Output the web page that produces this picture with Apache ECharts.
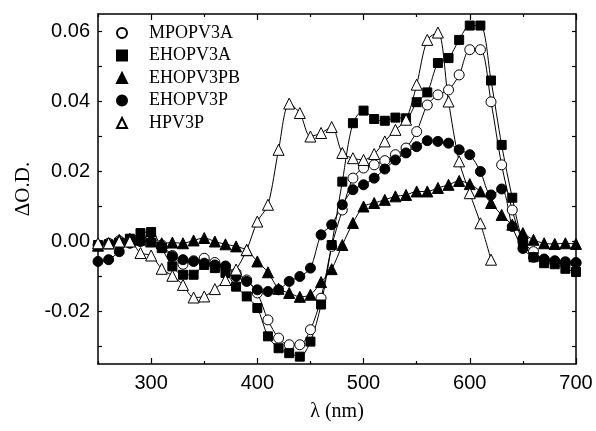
<!DOCTYPE html>
<html>
<head>
<meta charset="utf-8">
<script src="https://cdn.jsdelivr.net/npm/echarts@6/dist/echarts.min.js"></script>
<style>
  html, body { margin: 0; padding: 0; background: #fff; }
  #chart { width: 596px; height: 431px; }
</style>
</head>
<body>
<div id="chart"></div>
<script>
// wavelength grid, 10 nm steps
const wl = [250, 260, 270, 280, 290, 300, 310, 320, 330, 340, 350, 360, 370, 380, 390,
            400, 410, 420, 430, 440, 450, 460, 470, 480, 490, 500, 510, 520, 530, 540,
            550, 560, 570, 580, 590, 600, 610, 620, 630, 640, 650, 660, 670, 680, 690, 700];
const wlHPV = wl.slice(0, 38); // HPV3P stops at 620 nm

const mpopv3a = [-0.001, -0.0005, 0.0002, 0.0005, 0.001, 0.0012, -0.001, -0.004, -0.0065, -0.0055,
                 -0.0048, -0.006, -0.007, -0.009, -0.011, -0.0147, -0.0224, -0.0276, -0.0295, -0.0295,
                 -0.0252, -0.0162, -0.0014, 0.009, 0.0181, 0.021, 0.0219, 0.0231, 0.0248, 0.0267,
                 0.0314, 0.039, 0.0419, 0.0433, 0.0476, 0.0548, 0.0548, 0.0399, 0.0219, 0.009,
                 0.0, -0.0029, -0.0052, -0.0057, -0.0062, -0.0062];
const ehopv3a = [-0.001, -0.0008, -0.0003, 0.0008, 0.0024, 0.0027, -0.0019, -0.0071, -0.0095, -0.0095,
                 -0.0067, -0.0076, -0.009, -0.0129, -0.0157, -0.019, -0.0271, -0.0305, -0.0319, -0.0329,
                 -0.0286, -0.018, -0.001, 0.0171, 0.0338, 0.0374, 0.035, 0.0345, 0.0354, 0.0352,
                 0.0398, 0.0426, 0.051, 0.0524, 0.0576, 0.0617, 0.0617, 0.046, 0.0276, 0.0125,
                 0.0, -0.0045, -0.0062, -0.0065, -0.0078, -0.0087];
const ehopv3pb = [-0.0012, -0.0005, 0.0005, 0.0008, 0.0005, 0.0, -0.0005, -0.0003, -0.0005, 0.0003,
                  0.001, 0.0, -0.0008, -0.0014, -0.0025, -0.0057, -0.0088, -0.0135, -0.0147, -0.0158,
                  -0.0152, -0.0116, -0.0079, -0.001, 0.0053, 0.01, 0.011, 0.0119, 0.0129, 0.0133,
                  0.0143, 0.0143, 0.0153, 0.0162, 0.0173, 0.0164, 0.0143, 0.011, 0.0076, 0.0048,
                  0.0024, 0.0005, -0.0005, -0.0007, -0.0005, -0.0007];
const ehopv3p = [-0.0057, -0.0052, -0.0029, -0.0005, 0.0, 0.0, -0.0014, -0.0043, -0.0052, -0.0057,
                 -0.0062, -0.0067, -0.0071, -0.01, -0.0114, -0.0138, -0.0143, -0.0138, -0.0114, -0.01,
                 -0.0076, 0.0019, 0.0048, 0.0105, 0.0148, 0.0162, 0.0181, 0.0207, 0.0233, 0.0253,
                 0.0271, 0.0288, 0.0286, 0.0281, 0.0262, 0.0248, 0.02, 0.0133, 0.015, 0.0043,
                 -0.002, -0.0045, -0.005, -0.0055, -0.0058, -0.006];
const hpv3p = [-0.0005, -0.0005, 0.0, 0.0, -0.0033, -0.004, -0.0078, -0.0098, -0.0124, -0.016,
               -0.0157, -0.0136, -0.011, -0.008, -0.0024, 0.0057, 0.0105, 0.0262, 0.0394, 0.0367,
               0.03, 0.031, 0.0327, 0.0253, 0.0238, 0.0233, 0.025, 0.0286, 0.0319, 0.0348,
               0.0448, 0.0576, 0.0597, 0.04, 0.0229, 0.0138, 0.0052, -0.0052];

const xMajor = [300, 400, 500, 600, 700];
const xMinor = [250, 350, 450, 550, 650];
const yLabels = [-0.02, 0, 0.02, 0.04, 0.06];
const yTicks = [-0.03, -0.02, -0.01, 0, 0.01, 0.02, 0.03, 0.04, 0.05, 0.06];

const chart = echarts.init(document.getElementById('chart'));

const sans = 'Liberation Sans';
const serif = 'Liberation Serif';
const axisLine = { show: true, onZero: false, lineStyle: { color: '#000', width: 1.5 } };
const noLine = { show: false, onZero: false };
const tickStyle = { color: '#000', width: 1.2 };

function pairs(xs, ys) {
    return xs.map((x, i) => [x, ys[i]]);
}

function makeSeries(name, xs, ys, symbol, filled) {
    return {
        name: name,
        type: 'line',
        data: pairs(xs, ys),
        smooth: 0.3,
        symbol: symbol,
        symbolSize: symbol === 'triangle' ? 11 : (symbol === 'rect' ? 9 : 10),
        showAllSymbol: true,
        lineStyle: { color: '#000', width: 1 },
        itemStyle: {
            color: filled ? '#000' : '#fff',
            borderColor: '#000',
            borderWidth: 1
        },
        emphasis: { disabled: true },
        animation: false
    };
}

const xBase = { type: 'value', min: 250, max: 700, splitLine: { show: false } };
const yBase = { type: 'value', min: -0.035, max: 0.065, splitLine: { show: false } };

const option = {
    backgroundColor: '#fff',
    animation: false,
    grid: { left: 98, right: 20, top: 14, bottom: 67 },
    legend: {
        orient: 'vertical',
        left: 111,
        top: 19,
        itemWidth: 10,
        itemHeight: 10,
        itemGap: 4.5,
        textStyle: { fontFamily: serif, fontSize: 18, color: '#000', lineHeight: 18, padding: [0, 0, 0, 17] },
        data: [
            { name: 'MPOPV3A', icon: 'circle' },
            { name: 'EHOPV3A', icon: 'rect' },
            { name: 'EHOPV3PB', icon: 'triangle' },
            { name: 'EHOPV3P', icon: 'circle' },
            { name: 'HPV3P', icon: 'triangle' }
        ],
        selectedMode: false
    },
    xAxis: [
        Object.assign({}, xBase, {
            position: 'bottom',
            axisLine: axisLine,
            axisTick: { inside: true, length: 6, customValues: xMajor, lineStyle: tickStyle },
            axisLabel: { customValues: xMajor, fontFamily: sans, fontSize: 20, color: '#000', margin: 9 },
            name: 'λ (nm)',
            nameLocation: 'middle',
            nameGap: 38,
            nameTextStyle: { fontFamily: serif, fontSize: 20, color: '#000' }
        }),
        Object.assign({}, xBase, {
            position: 'bottom',
            axisLine: noLine,
            axisTick: { inside: true, length: 3, customValues: xMinor, lineStyle: tickStyle },
            axisLabel: { show: false }
        }),
        Object.assign({}, xBase, {
            position: 'top',
            axisLine: axisLine,
            axisTick: { inside: true, length: 6, customValues: xMajor, lineStyle: tickStyle },
            axisLabel: { show: false }
        }),
        Object.assign({}, xBase, {
            position: 'top',
            axisLine: noLine,
            axisTick: { inside: true, length: 3, customValues: xMinor, lineStyle: tickStyle },
            axisLabel: { show: false }
        })
    ],
    yAxis: [
        Object.assign({}, yBase, {
            position: 'left',
            axisLine: axisLine,
            axisTick: { inside: true, length: 4, customValues: yTicks, lineStyle: tickStyle },
            axisLabel: {
                customValues: yLabels,
                formatter: v => v.toFixed(2),
                fontFamily: sans, fontSize: 20, color: '#000', margin: 8
            },
            name: 'ΔO.D.',
            nameLocation: 'middle',
            nameGap: 61,
            nameTextStyle: { fontFamily: serif, fontSize: 21, color: '#000' }
        }),
        Object.assign({}, yBase, {
            position: 'right',
            axisLine: axisLine,
            axisTick: { inside: true, length: 4, customValues: yTicks, lineStyle: tickStyle },
            axisLabel: { show: false }
        })
    ],
    series: [
        makeSeries('MPOPV3A', wl, mpopv3a, 'circle', false),
        makeSeries('EHOPV3A', wl, ehopv3a, 'rect', true),
        makeSeries('EHOPV3PB', wl, ehopv3pb, 'triangle', true),
        makeSeries('EHOPV3P', wl, ehopv3p, 'circle', true),
        makeSeries('HPV3P', wlHPV, hpv3p, 'triangle', false)
    ]
};

chart.setOption(option);
</script>
</body>
</html>
